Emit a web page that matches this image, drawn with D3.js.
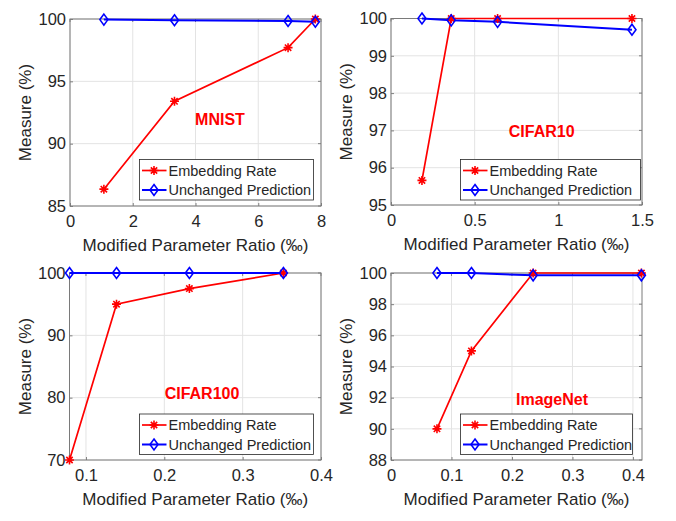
<!DOCTYPE html>
<html><head><meta charset="utf-8">
<script src="https://cdn.jsdelivr.net/npm/d3@7"></script>
<style>html,body{margin:0;padding:0;background:#fff}svg{display:block}</style>
</head><body>
<svg id="c" width="676" height="521"></svg>
<script>
// ---- data ----
const seriesNames = ["Embedding Rate", "Unchanged Prediction"];

const mnistX = [1.08, 3.33, 6.95, 7.82];
const mnistEmbed = [86.35, 93.4, 97.7, 100];
const mnistUnchanged = [99.95, 99.9, 99.84, 99.78];

const cifar10X = [0.185, 0.36, 0.637, 1.44];
const cifar10Embed = [95.66, 100, 100, 100];
const cifar10Unchanged = [100, 99.95, 99.91, 99.7];

const cifar100X = [0.079, 0.139, 0.232, 0.352];
const cifar100Embed = [70, 95, 97.5, 100];
const cifar100Unchanged = [100, 100, 100, 100];

const imagenetX = [0.076, 0.133, 0.235, 0.414];
const imagenetEmbed = [90, 95, 100, 100];
const imagenetUnchanged = [100, 100, 99.85, 99.85];

const mnistXTicks = [0, 2, 4, 6, 8], mnistYTicks = [85, 90, 95, 100];
const cifar10XTicks = [0, 0.5, 1, 1.5], cifar10YTicks = [95, 96, 97, 98, 99, 100];
const cifar100XTicks = [0.1, 0.2, 0.3, 0.4], cifar100YTicks = [70, 80, 90, 100];
const imagenetXTicks = [0, 0.1, 0.2, 0.3, 0.4], imagenetYTicks = [88, 90, 92, 94, 96, 98, 100];

const xLabel = "Modified Parameter Ratio (‰)";
const yLabel = "Measure (%)";

// ---- layout ----
const panels = [
  {name:"MNIST", x:mnistX, e:mnistEmbed, u:mnistUnchanged, xd:[0,8], yd:[85,100], xt:mnistXTicks, yt:mnistYTicks,
   L:70, R:321, T:19, B:206, title:[220,119], leg:[139.5,159.5,174]},
  {name:"CIFAR10", x:cifar10X, e:cifar10Embed, u:cifar10Unchanged, xd:[0,1.5], yd:[95,100], xt:cifar10XTicks, yt:cifar10YTicks,
   L:391, R:642, T:18.5, B:205, title:[541.7,131], leg:[460.5,159.5,180]},
  {name:"CIFAR100", x:cifar100X, e:cifar100Embed, u:cifar100Unchanged, xd:[0.079,0.4], yd:[70,100], xt:cifar100XTicks, yt:cifar100YTicks,
   L:69.5, R:321, T:273, B:460, title:[202,393.5], leg:[139.5,414,174]},
  {name:"ImageNet", x:imagenetX, e:imagenetEmbed, u:imagenetUnchanged, xd:[0,0.415], yd:[88,100], xt:imagenetXTicks, yt:imagenetYTicks,
   L:391, R:642, T:273, B:460, title:[552,399.5], leg:[460.5,414,172]}
];

const svg = d3.select("#c");
const font = "'Liberation Sans', Arial, Helvetica, sans-serif";
const txt = "#262626";
const red = "#ff0000", blue = "#0000ff";

function asterisk(g, cx, cy, r, color) {
  const p = d3.path();
  for (let k = 0; k < 4; k++) {
    const a = k * Math.PI / 4;
    p.moveTo(cx - r*Math.cos(a), cy - r*Math.sin(a));
    p.lineTo(cx + r*Math.cos(a), cy + r*Math.sin(a));
  }
  g.append("path").attr("d", p.toString()).attr("stroke", color).attr("stroke-width", 1.6).attr("fill", "none");
}
function diamond(g, cx, cy, color) {
  const w = 4, h = 5.5;
  g.append("path").attr("d", `M${cx},${cy-h}L${cx+w},${cy}L${cx},${cy+h}L${cx-w},${cy}Z`)
   .attr("stroke", color).attr("stroke-width", 1.6).attr("fill", "none");
}

panels.forEach(P => {
  const x = d3.scaleLinear().domain(P.xd).range([P.L, P.R]);
  const y = d3.scaleLinear().domain(P.yd).range([P.B, P.T]);
  const g = svg.append("g");

  // grid
  g.append("g").selectAll("line").data(P.xt).join("line")
    .attr("x1", d => x(d)).attr("x2", d => x(d)).attr("y1", P.T).attr("y2", P.B)
    .attr("stroke", "#e3e3e3").attr("stroke-width", 1);
  g.append("g").selectAll("line").data(P.yt).join("line")
    .attr("y1", d => y(d)).attr("y2", d => y(d)).attr("x1", P.L).attr("x2", P.R)
    .attr("stroke", "#e3e3e3").attr("stroke-width", 1);

  // axes (inside ticks)
  const fmt = d => String(d);
  const ax = g.append("g").attr("transform", `translate(0,${P.B})`)
    .call(d3.axisBottom(x).tickValues(P.xt).tickFormat(fmt).tickSizeInner(-3).tickSizeOuter(0).tickPadding(9));
  const ay = g.append("g").attr("transform", `translate(${P.L},0)`)
    .call(d3.axisLeft(y).tickValues(P.yt).tickFormat(fmt).tickSizeInner(-3).tickSizeOuter(0).tickPadding(4));
  [ax, ay].forEach(a => {
    a.select(".domain").remove();
    a.selectAll(".tick line").attr("stroke", "#808080");
    a.selectAll("text").attr("fill", txt).style("font-family", font).style("font-size", "16.5px");
  });
  // top / right ticks
  g.append("g").selectAll("line").data(P.xt).join("line")
    .attr("x1", d => x(d)).attr("x2", d => x(d)).attr("y1", P.T).attr("y2", P.T + 3).attr("stroke", "#808080");
  g.append("g").selectAll("line").data(P.yt).join("line")
    .attr("y1", d => y(d)).attr("y2", d => y(d)).attr("x1", P.R).attr("x2", P.R - 3).attr("stroke", "#808080");

  // box
  g.append("rect").attr("x", P.L).attr("y", P.T).attr("width", P.R - P.L).attr("height", P.B - P.T)
    .attr("fill", "none").attr("stroke", "#7a7a7a").attr("stroke-width", 1);

  // labels
  g.append("text").attr("x", (P.L + P.R) / 2).attr("y", P.B + 45)
    .attr("text-anchor", "middle").attr("fill", txt).style("font-family", font).style("font-size", "17px").text(xLabel);
  g.append("text").attr("transform", `translate(${P.L - 39},${(P.T + P.B) / 2}) rotate(-90)`)
    .attr("text-anchor", "middle").attr("fill", txt).style("font-family", font).style("font-size", "17px").text(yLabel);

  // lines
  const idx = d3.range(P.x.length);
  const lineE = d3.line().x(i => x(P.x[i])).y(i => y(P.e[i]));
  const lineU = d3.line().x(i => x(P.x[i])).y(i => y(P.u[i]));
  g.append("path").attr("d", lineE(idx)).attr("fill", "none").attr("stroke", red).attr("stroke-width", 1.7);
  g.append("path").attr("d", lineU(idx)).attr("fill", "none").attr("stroke", blue).attr("stroke-width", 2);
  idx.forEach(i => asterisk(g, x(P.x[i]), y(P.e[i]), 4.5, red));
  idx.forEach(i => diamond(g, x(P.x[i]), y(P.u[i]), blue));

  // title
  g.append("text").attr("x", P.title[0]).attr("y", P.title[1]).attr("dy", "0.35em")
    .attr("text-anchor", "middle").attr("fill", red).style("font-family", font)
    .style("font-size", "16px").style("font-weight", "bold").text(P.name);

  // legend
  const [lx, ly, lw] = P.leg;
  const lh = 40.5;
  const lg = g.append("g");
  lg.append("rect").attr("x", lx).attr("y", ly).attr("width", lw).attr("height", lh)
    .attr("fill", "#fff").attr("stroke", "#262626").attr("stroke-width", 0.8);
  seriesNames.forEach((s, k) => {
    const cy = ly + 11 + k * 19.5;
    lg.append("line").attr("x1", lx + 2.5).attr("x2", lx + 27).attr("y1", cy).attr("y2", cy)
      .attr("stroke", k ? blue : red).attr("stroke-width", k ? 2 : 1.7);
    if (k) diamond(lg, lx + 14.5, cy, blue); else asterisk(lg, lx + 14.5, cy, 4.5, red);
    lg.append("text").attr("x", lx + 29).attr("y", cy).attr("dy", "0.35em")
      .attr("fill", txt).style("font-family", font).style("font-size", "14.5px").text(s);
  });
});
</script>
</body></html>
